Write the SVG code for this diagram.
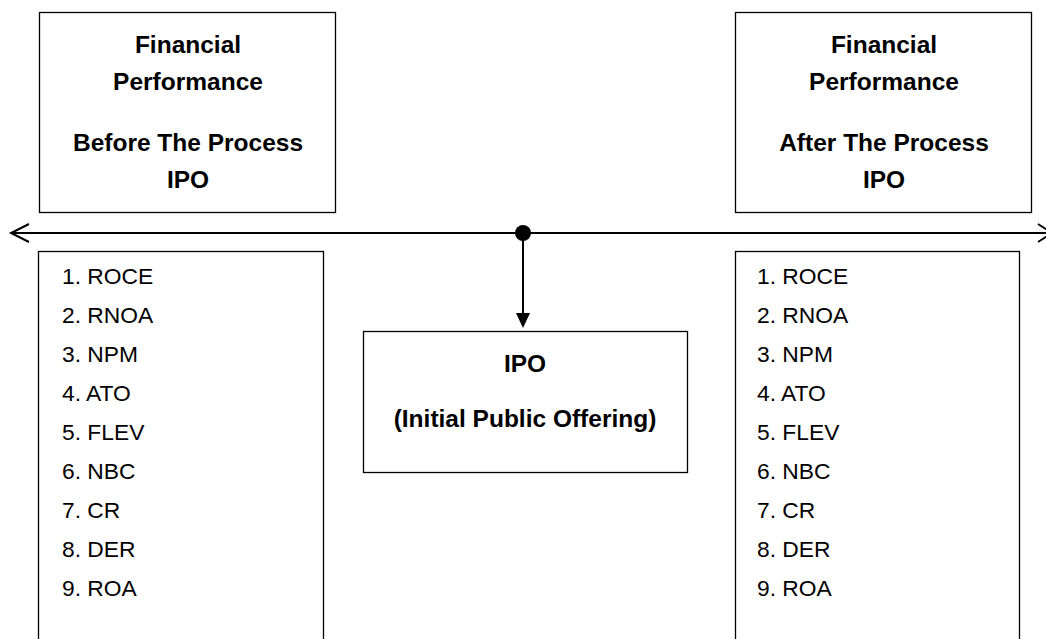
<svg xmlns="http://www.w3.org/2000/svg" width="1046" height="639" viewBox="0 0 1046 639">
<style>
.box{fill:#fff;stroke:#000;stroke-width:1.3}
.h{font-family:"Liberation Sans",Arial,sans-serif;font-weight:bold;font-size:24.5px;text-anchor:middle;fill:#000}
.l{font-family:"Liberation Sans",Arial,sans-serif;font-size:22.8px;fill:#000}
.c{stroke:#000;stroke-width:2;fill:none}
</style>
<rect width="1046" height="639" fill="#fff"/>
<g id="before">
<rect class="box" x="39.5" y="12.5" width="296" height="200"/>
<text class="h" x="188" y="53">Financial</text>
<text class="h" x="188" y="90">Performance</text>
<text class="h" x="188" y="151">Before The Process</text>
<text class="h" x="188" y="188">IPO</text>
</g>
<g id="after">
<rect class="box" x="735.5" y="12.5" width="296" height="200"/>
<text class="h" x="884" y="53">Financial</text>
<text class="h" x="884" y="90">Performance</text>
<text class="h" x="884" y="151">After The Process</text>
<text class="h" x="884" y="188">IPO</text>
</g>
<g id="list-before">
<rect class="box" x="38.5" y="251.5" width="285" height="400"/>
<text class="l" x="62" y="284">1. ROCE</text>
<text class="l" x="62" y="323">2. RNOA</text>
<text class="l" x="62" y="362">3. NPM</text>
<text class="l" x="62" y="401">4. ATO</text>
<text class="l" x="62" y="440">5. FLEV</text>
<text class="l" x="62" y="479">6. NBC</text>
<text class="l" x="62" y="518">7. CR</text>
<text class="l" x="62" y="557">8. DER</text>
<text class="l" x="62" y="596">9. ROA</text>
</g>
<g id="list-after">
<rect class="box" x="735.5" y="251.5" width="284" height="400"/>
<text class="l" x="757" y="284">1. ROCE</text>
<text class="l" x="757" y="323">2. RNOA</text>
<text class="l" x="757" y="362">3. NPM</text>
<text class="l" x="757" y="401">4. ATO</text>
<text class="l" x="757" y="440">5. FLEV</text>
<text class="l" x="757" y="479">6. NBC</text>
<text class="l" x="757" y="518">7. CR</text>
<text class="l" x="757" y="557">8. DER</text>
<text class="l" x="757" y="596">9. ROA</text>
</g>
<g id="ipo">
<rect class="box" x="363.5" y="331.5" width="324" height="141"/>
<text class="h" x="525" y="372">IPO</text>
<text class="h" x="525" y="427">(Initial Public Offering)</text>
</g>
<g id="connectors">
<line class="c" x1="11" y1="233" x2="1046" y2="233"/>
<polyline class="c" points="29,224 11,233 29,242"/>
<polyline class="c" points="1038,224 1052,233 1038,242"/>
<circle cx="523" cy="233" r="8" fill="#000"/>
<line class="c" x1="523" y1="233" x2="523" y2="314"/>
<polygon points="516,313 530,313 523,328" fill="#000"/>
</g>
</svg>
